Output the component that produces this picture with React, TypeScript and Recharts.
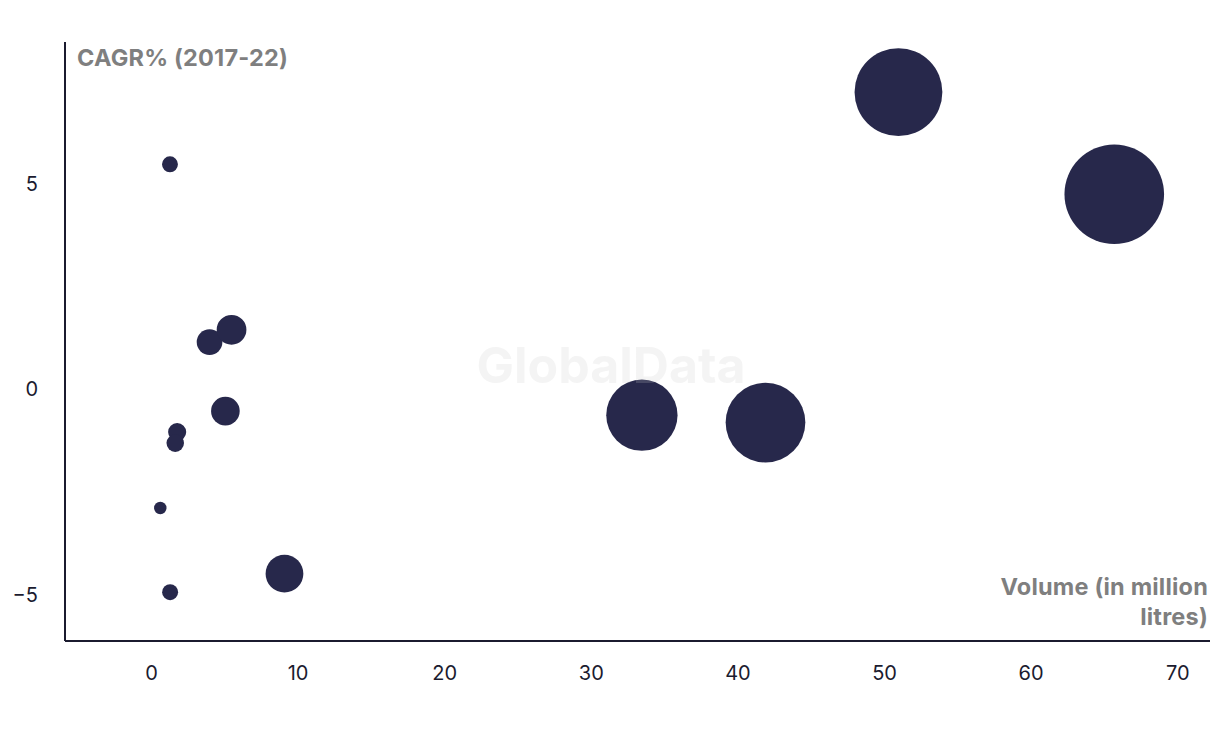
import React from "react";
import { ScatterChart, Scatter, XAxis, YAxis, ZAxis } from "recharts";

// Volume (million litres) and CAGR% 2017-22
const volumes = [1.26, 50.95, 65.67, 3.96, 5.46, 5.04, 1.75, 1.62, 0.6, 1.27, 9.07, 33.45, 41.88];
const cagr = [5.48, 7.24, 4.75, 1.15, 1.45, -0.53, -1.04, -1.31, -2.89, -4.94, -4.49, -0.63, -0.81];

const xTicks = [0, 10, 20, 30, 40, 50, 60, 70];
const yTicks = [-5, 0, 5];

const INK = "#1b1b2f";
const BUBBLE = "#27284b";
const FONT = "Inter, 'Liberation Sans', Arial, sans-serif";

export default function App() {
  const data = volumes.map((v, i) => ({ x: v, y: cagr[i], z: v }));

  const tickStyle = { fill: INK, fontSize: 20, fontFamily: FONT };

  return (
    <div style={{ position: "relative", width: 1212, height: 724 }}>
      <ScatterChart
        width={1212}
        height={724}
        margin={{ top: 34, right: 10, bottom: 0, left: 0 }}
      >
        <XAxis
          type="number"
          dataKey="x"
          domain={[-5.9, 72.2]}
          ticks={xTicks}
          height={91}
          tickSize={0}
          tickMargin={25}
          axisLine={{ stroke: INK, strokeWidth: 2 }}
          tickLine={false}
          tick={tickStyle}
          allowDataOverflow
        />
        <YAxis
          type="number"
          dataKey="y"
          domain={[-6.13, 8.46]}
          ticks={yTicks}
          width={57}
          tickSize={0}
          tickMargin={27}
          axisLine={{ stroke: INK, strokeWidth: 2 }}
          tickLine={false}
          tick={tickStyle}
          tickFormatter={(v) => (v < 0 ? `\u2212${Math.abs(v)}` : `${v}`)}
          allowDataOverflow
        />
        <ZAxis type="number" dataKey="z" domain={[0, 65.67]} range={[51, 7791]} />
        <Scatter data={data} fill={BUBBLE} shape="circle" isAnimationActive={false} />
      </ScatterChart>

      <div
        style={{
          position: "absolute",
          left: 69,
          top: 35,
          fontFamily: FONT,
          fontWeight: 700,
          fontSize: 23.5,
          letterSpacing: "0.2px",
          color: "#7f7f7f",
          whiteSpace: "nowrap",
        }}
      >
        CAGR% (2017-22)
      </div>

      <div
        style={{
          position: "absolute",
          right: 12,
          top: 564,
          fontFamily: FONT,
          fontWeight: 700,
          fontSize: 23.5,
          letterSpacing: "0.2px",
          lineHeight: "30px",
          color: "#7f7f7f",
          textAlign: "right",
          whiteSpace: "nowrap",
        }}
      >
        Volume (in million
        <br />
        litres)
      </div>

      <div
        style={{
          position: "absolute",
          left: 468,
          top: 327,
          width: 270,
          textAlign: "center",
          fontFamily: FONT,
          fontWeight: 700,
          fontSize: 50,
          color: "rgba(200,200,200,0.2)",
          pointerEvents: "none",
          whiteSpace: "nowrap",
        }}
      >
        GlobalData
      </div>
    </div>
  );
}
